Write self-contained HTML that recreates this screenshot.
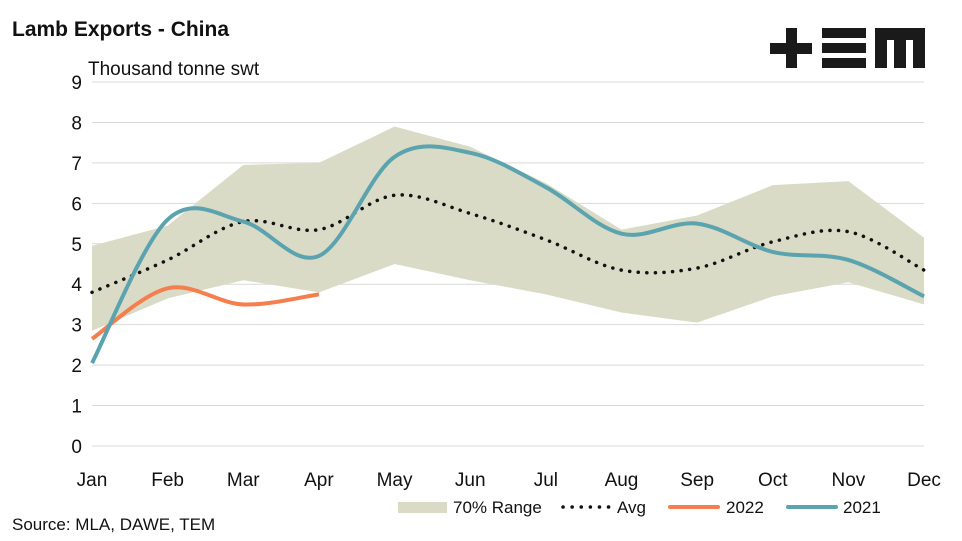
<!DOCTYPE html>
<html><head><meta charset="utf-8"><style>
html,body{margin:0;padding:0;background:#fff;}
svg{display:block;font-family:"Liberation Sans",sans-serif;}
</style></head><body>
<svg id="c" width="962" height="541" viewBox="0 0 962 541" xmlns="http://www.w3.org/2000/svg">
<text x="12" y="36" font-size="21" font-weight="bold" fill="#111">Lamb Exports - China</text>
<text x="88" y="75" font-size="19" fill="#111">Thousand tonne swt</text>
<g fill="#1a1a1a">
<rect x="770" y="43" width="42" height="11"/><rect x="786" y="28" width="11" height="40"/>
<rect x="822" y="28" width="44" height="10"/><rect x="822" y="43" width="44" height="10"/><rect x="822" y="58" width="44" height="10"/>
<path d="M875 28H925V68H913V40H906V68H894V40H887V68H875Z"/>
</g>
<g id="grid" stroke="#d9d9d9" stroke-width="1"></g>
<g id="ylab" font-size="19" fill="#111" text-anchor="end"></g>
<g id="xlab" font-size="19" fill="#111" text-anchor="middle"></g>
<g id="series"></g>
<rect x="398" y="502" width="49" height="11" fill="#d9dbc6"/>
<text x="453" y="513" font-size="17" fill="#111">70% Range</text>
<line x1="563" y1="507" x2="610" y2="507" stroke="#111" stroke-width="3.5" stroke-dasharray="0.1 9" stroke-linecap="round"/>
<text x="617" y="513" font-size="17" fill="#111">Avg</text>
<line x1="670" y1="507" x2="718" y2="507" stroke="#f47e4d" stroke-width="4" stroke-linecap="round"/>
<text x="726" y="513" font-size="17" fill="#111">2022</text>
<line x1="788" y1="507" x2="836" y2="507" stroke="#5ba3ae" stroke-width="4" stroke-linecap="round"/>
<text x="843" y="513" font-size="17" fill="#111">2021</text>
<text x="12" y="530" font-size="17" fill="#111">Source: MLA, DAWE, TEM</text>
</svg>
<script>
const NS="http://www.w3.org/2000/svg";
const X=i=>92+i*75.64, Y=v=>446-v*40.44;
function el(p,t,a,txt){const e=document.createElementNS(NS,t);for(const k in a)e.setAttribute(k,a[k]);if(txt!==undefined)e.textContent=txt;document.getElementById(p).appendChild(e);return e;}
for(let v=0;v<=9;v++){el("grid","line",{x1:92,x2:924,y1:Y(v),y2:Y(v)});el("ylab","text",{x:82,y:Y(v)+7},v);}
"Jan Feb Mar Apr May Jun Jul Aug Sep Oct Nov Dec".split(" ").forEach((m,i)=>el("xlab","text",{x:X(i),y:486},m));
const up=[4.95,5.45,6.95,7.0,7.9,7.4,6.5,5.35,5.7,6.45,6.55,5.15];
const lo=[2.85,3.65,4.1,3.8,4.5,4.1,3.75,3.3,3.05,3.7,4.05,3.5];
let d="M"+up.map((v,i)=>X(i)+" "+Y(v)).join("L")+"L"+lo.map((v,i)=>X(i)+" "+Y(v)).reverse().join("L")+"Z";
el("series","path",{d:d,fill:"#d9dbc6"});
function smooth(a){const p=a.map((v,i)=>[X(i),Y(v)]);let s="M"+p[0];for(let i=0;i<p.length-1;i++){const p0=p[Math.max(0,i-1)],p1=p[i],p2=p[i+1],p3=p[Math.min(p.length-1,i+2)];
const c1=[p1[0]+(p2[0]-p0[0])/6,p1[1]+(p2[1]-p0[1])/6],c2=[p2[0]-(p3[0]-p1[0])/6,p2[1]-(p3[1]-p1[1])/6];s+="C"+c1+" "+c2+" "+p2;}return s;}
el("series","path",{d:smooth([3.8,4.6,5.55,5.35,6.2,5.75,5.1,4.35,4.4,5.05,5.3,4.35]),fill:"none",stroke:"#111","stroke-width":3.5,"stroke-dasharray":"0.1 8.5","stroke-linecap":"round"});
el("series","path",{d:smooth([2.65,3.9,3.5,3.75]),fill:"none",stroke:"#f47e4d","stroke-width":4});
el("series","path",{d:smooth([2.05,5.6,5.55,4.7,7.15,7.25,6.4,5.25,5.5,4.8,4.6,3.7]),fill:"none",stroke:"#5ba3ae","stroke-width":4});
</script>
</body></html>
